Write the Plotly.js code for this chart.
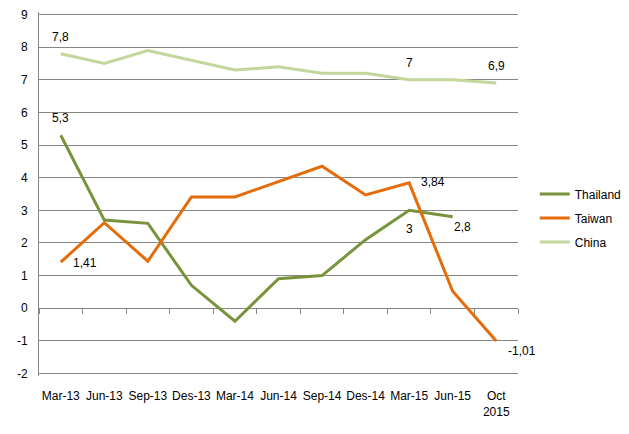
<!DOCTYPE html>
<html><head><meta charset="utf-8">
<script src="https://cdn.plot.ly/plotly-3.0.1.min.js"></script>
<style>html,body{margin:0;padding:0;background:#fff}#chart{width:629px;height:434px}</style>
</head><body><div id="chart"></div>
<script>
const categories = ["Mar-13","Jun-13","Sep-13","Des-13","Mar-14","Jun-14","Sep-14","Des-14","Mar-15","Jun-15","Oct<br>2015"];
const thailand = [5.3, 2.7, 2.6, 0.7, -0.4, 0.9, 1.0, 2.1, 3.0, 2.8, null];
const taiwan = [1.41, 2.62, 1.44, 3.41, 3.41, 3.88, 4.35, 3.47, 3.84, 0.52, -1.01];
const china = [7.8, 7.5, 7.9, 7.6, 7.3, 7.4, 7.2, 7.2, 7.0, 7.0, 6.9];
const yTicks = [-2,-1,0,1,2,3,4,5,6,7,8,9];

const font = "Liberation Sans, Arial, sans-serif";
const idx = categories.map((_, i) => i);

function line(name, ys, color, group) {
  return {x: idx, y: ys, name: name, type: 'scatter', mode: 'lines',
    line: {color: color, width: 3}, legendgroup: group, hoverinfo: 'skip'};
}
const traces = [
  line('Thailand', thailand, '#77933C', 'a'),
  line('Taiwan', taiwan, '#E46C0A', 'b'),
  line('China', china, '#C3D69B', 'c'),
  {x: [idx[0]], y: [null], xaxis: 'x2', type: 'scatter', mode: 'lines', showlegend: false, hoverinfo: 'skip'}
];

// data labels: [series, index, xshift, yshift, xanchor]
const labelSpec = [
  [china, 0, 0, 17, 'center'],
  [china, 8, 0, 17, 'center'],
  [china, 10, 0, 17, 'center'],
  [thailand, 0, 0, 17, 'center'],
  [thailand, 8, 0, -19, 'center'],
  [thailand, 9, 10, -10, 'center'],
  [taiwan, 0, 10, -1, 'left'],
  [taiwan, 8, 10, 1, 'left'],
  [taiwan, 10, 10, -10, 'left']
];
const annotations = labelSpec.map(([s, i, xs, ys, xa]) => ({
  x: idx[i], y: s[i], xref: 'x', yref: 'y', showarrow: false,
  text: String(s[i]).replace('.', ','), xshift: xs, yshift: ys, xanchor: xa,
  font: {family: font, size: 12, color: '#000'}
}));

const bounds = categories.map((_, i) => i - 0.5).concat([categories.length - 0.5]);
const yMin = yTicks[0], yMax = yTicks[yTicks.length - 1];
const pad = 0.08;

const layout = {
  width: 629, height: 434,
  margin: {l: 39, r: 111, t: 12, b: 58, autoexpand: false},
  paper_bgcolor: '#fff', plot_bgcolor: '#fff',
  font: {family: font, size: 12, color: '#000'},
  showlegend: true,
  legend: {x: 1.035, y: 0.54, xanchor: 'left', yanchor: 'top', font: {family: font, size: 12, color: '#000'},
    tracegroupgap: 5, bgcolor: 'rgba(0,0,0,0)'},
  xaxis: {range: [-0.5, categories.length - 0.5], tickmode: 'array', tickvals: idx, ticktext: categories,
    showgrid: false, zeroline: false, showline: false, ticks: '', ticklabelstandoff: 11,
    tickfont: {family: font, size: 12, color: '#000'}, fixedrange: true},
  xaxis2: {overlaying: 'x', anchor: 'free', position: (0 - yMin + pad) / (yMax - yMin + 2 * pad), range: [-0.5, categories.length - 0.5],
    tickmode: 'array', tickvals: bounds, showticklabels: false, ticks: 'outside', ticklen: 5,
    tickcolor: '#868686', tickwidth: 1, showgrid: false, zeroline: false, showline: false},
  yaxis: {range: [yMin - pad, yMax + pad], tickmode: 'array', tickvals: yTicks, ticktext: yTicks.map(String),
    showgrid: true, gridcolor: '#868686', gridwidth: 1,
    zeroline: true, zerolinecolor: '#868686', zerolinewidth: 1, showline: true, linecolor: '#868686', linewidth: 1,
    ticks: '', ticklabelstandoff: 8, tickfont: {family: font, size: 12, color: '#000'}, fixedrange: true},
  annotations: annotations
};
Plotly.newPlot('chart', traces, layout, {displayModeBar: false, staticPlot: true});
</script></body></html>
